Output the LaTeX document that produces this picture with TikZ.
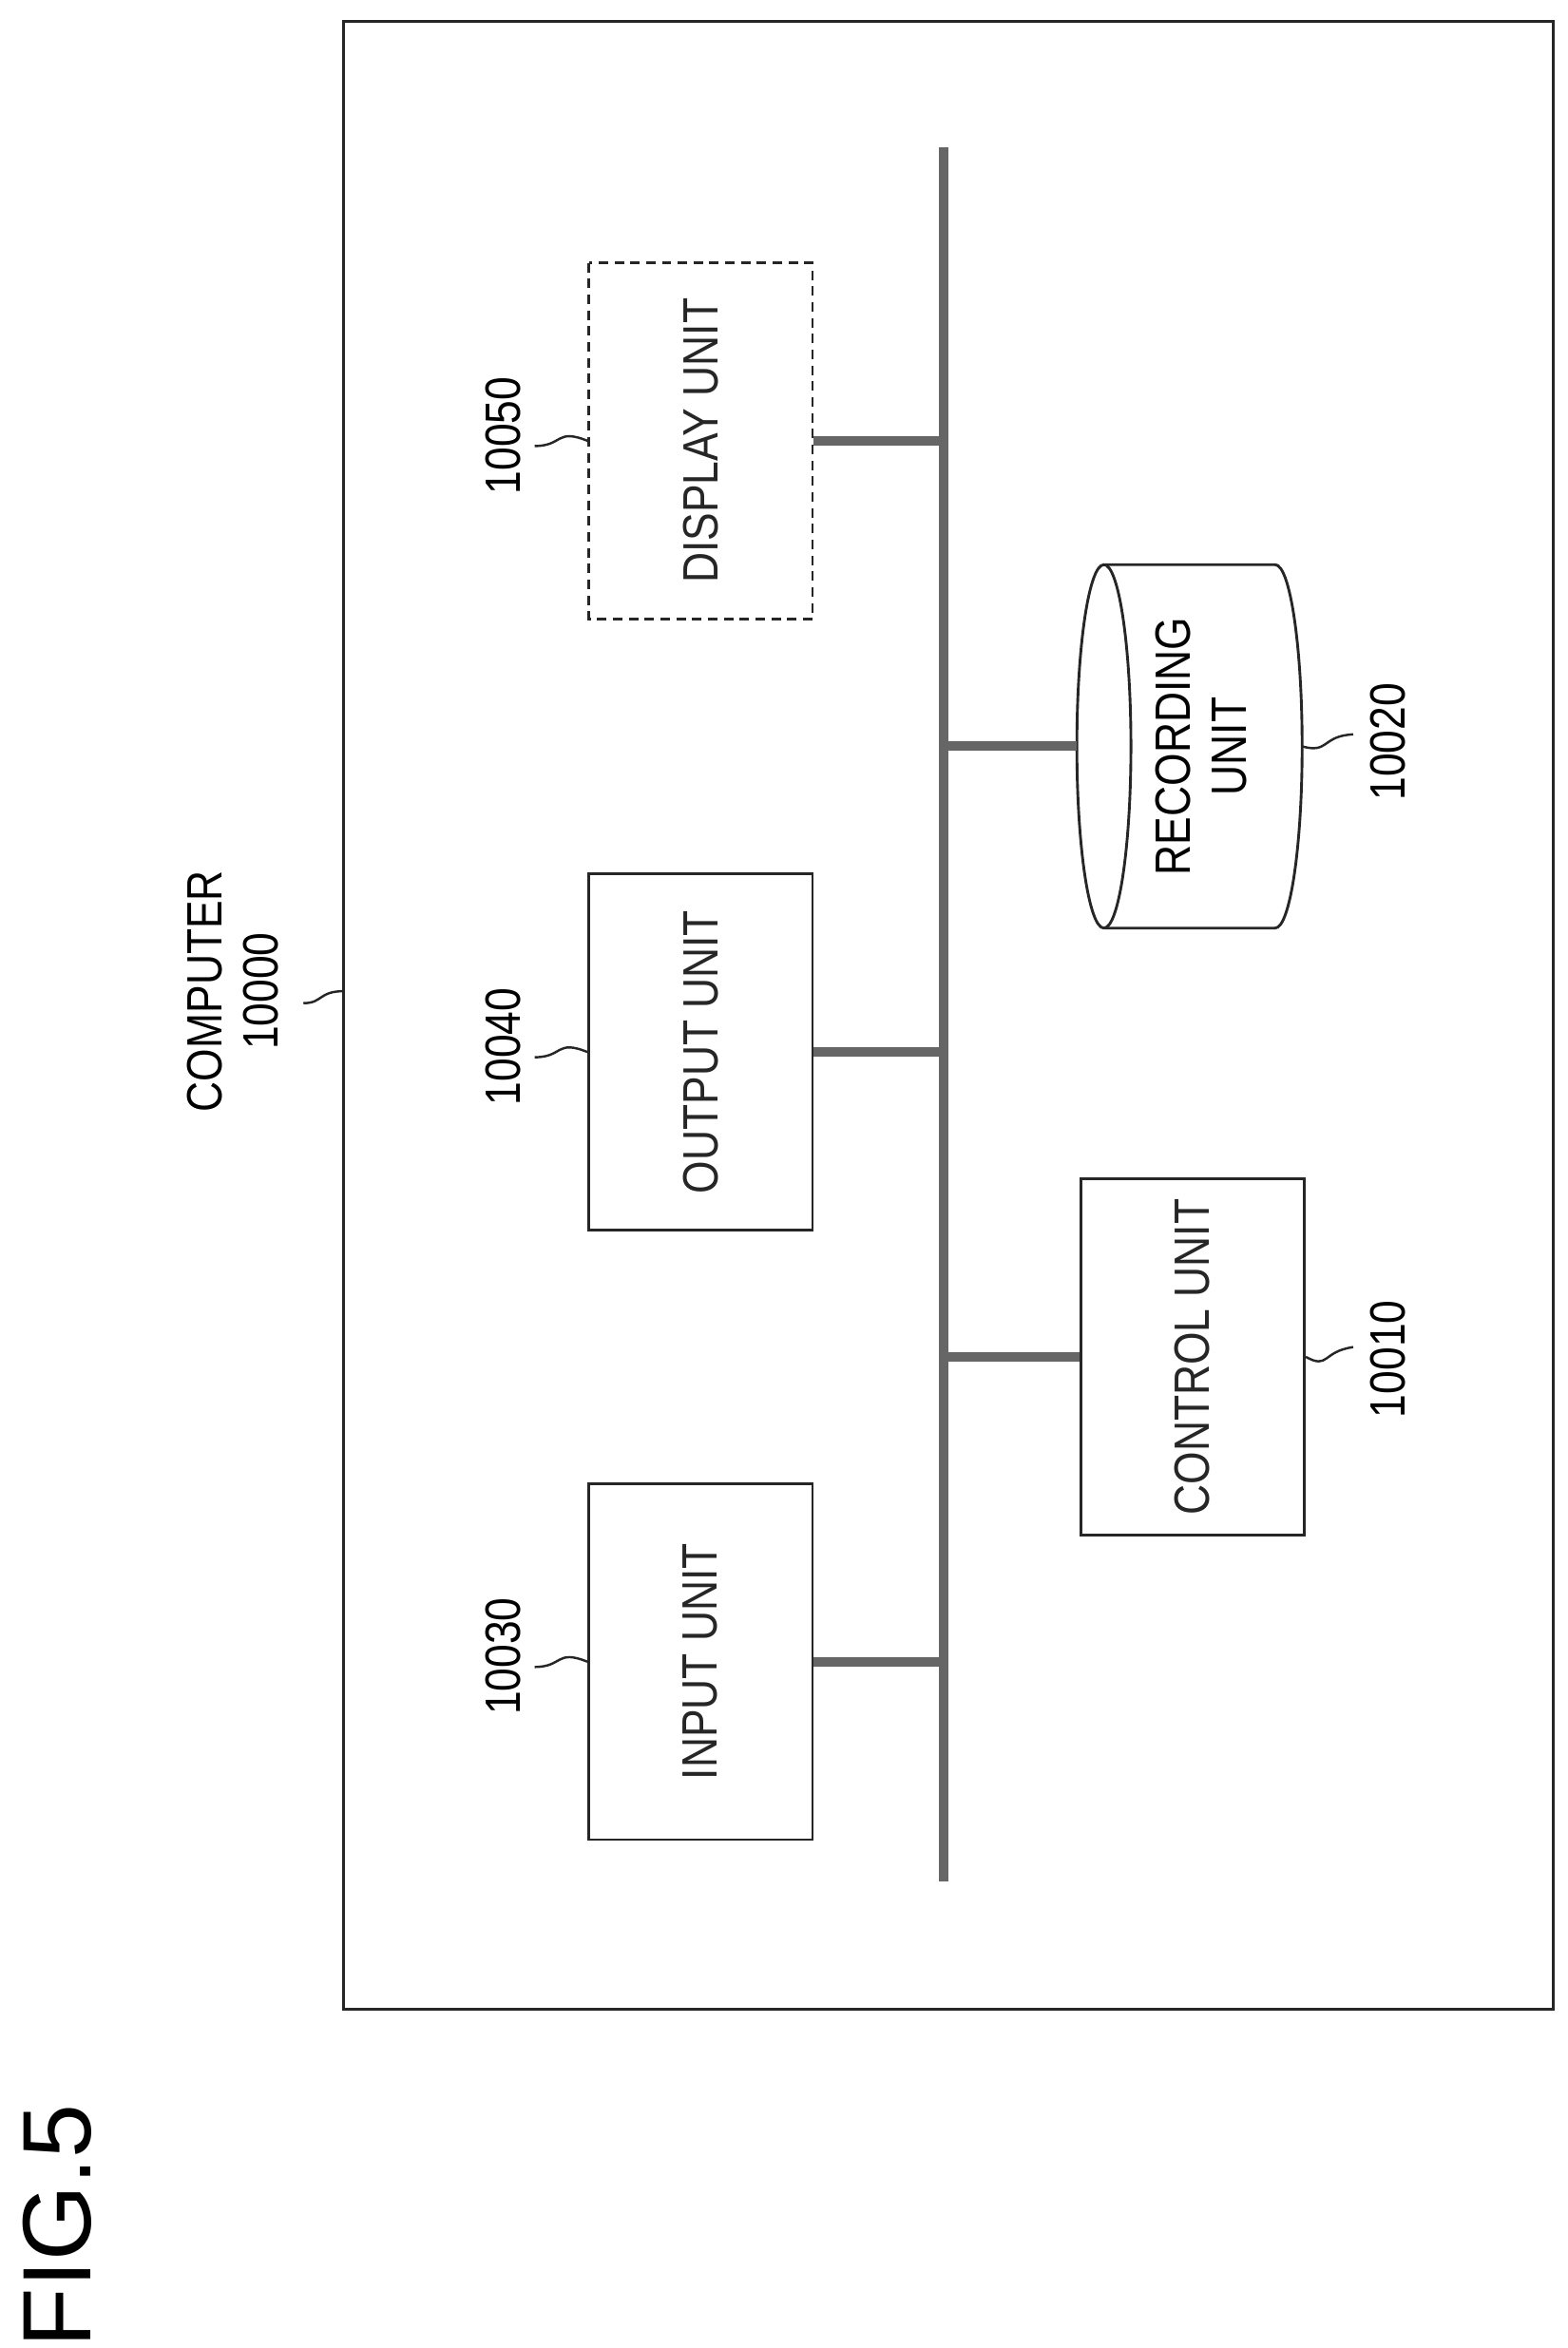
\documentclass[tikz,border=0pt]{standalone}
\usepackage{fontspec}
\setmainfont[FakeStretch=0.85]{Liberation Sans}
\newfontfamily\figfont{Liberation Sans}
\begin{document}
\begin{tikzpicture}[x=0.05cm,y=-0.05cm,
  line/.style={line width=2.6pt,black!85},
  box/.style={draw,line width=2.6pt,black!85,rotate=90,minimum width=11.85cm,minimum height=7.45cm,font=\fontsize{47}{53}\selectfont,inner sep=0pt},
  lbl/.style={rotate=90,font=\fontsize{47}{53}\selectfont,inner sep=0pt,align=center},
  bus/.style={line width=9pt,black!60},
  lead/.style={line width=2.2pt,black!85}]
\useasboundingbox (0,0) rectangle (1044,1563.5);
\draw[line] (229,14) rectangle (1034,1338);
% bus
\coordinate (b0) at (628,98); \coordinate (b1) at (628,1253);
\draw[bus] (b0) -- (b1);
% left boxes
\node[box] (in) at (466.5,1106.5) {INPUT UNIT};
\node[box] (out) at (466.5,700.5) {OUTPUT UNIT};
\node[box,dash pattern=on 9pt off 6pt] (disp) at (466.5,293.5) {DISPLAY UNIT};
\node[box] (ctl) at (794,903.5) {CONTROL UNIT};
% cylinder
\draw[line] (736,376) -- (849,376) arc[start angle=-90,end angle=90,x radius=18,y radius=121] -- (736,618);
\draw[line] (735,497) ellipse[x radius=18,y radius=121];
\node[lbl] (rec) at (800,497) {RECORDING\\UNIT};
\coordinate (recL) at (717,497);
\coordinate (recR) at (867,497);
% connectors
\coordinate (bi) at (628,1106.5); \coordinate (bo) at (628,700.5);
\coordinate (bd) at (628,293.5); \coordinate (bc) at (628,903.5);
\coordinate (br) at (628,497);
\draw[bus] (in.south) -- (bi);
\draw[bus] (out.south) -- (bo);
\draw[bus] (disp.south) -- (bd);
\draw[bus] (bc) -- (ctl.north);
\draw[bus] (br) -- (recL);
% labels
\node[lbl] (l30) at (335,1103) {10030};
\node[lbl] (l40) at (335,697) {10040};
\node[lbl] (l50) at (335,290) {10050};
\node[lbl] (l10) at (924,905) {10010};
\node[lbl] (l20) at (924,494) {10020};
\node[lbl] (l00) at (155,660) {COMPUTER\\10000};
\node[rotate=90,font=\figfont\fontsize{92}{100}\selectfont,inner sep=0pt] (fig) at (38,1482) {FIG.5};
% leaders
\draw[lead] (356,1110) .. controls (375,1110) and (370,1098) .. (in.north);
\draw[lead] (356,704) .. controls (375,704) and (370,692) .. (out.north);
\draw[lead] (356,297) .. controls (375,297) and (370,285) .. (disp.north);
\draw[lead] (ctl.south) .. controls (885,912) and (880,900) .. (901,897);
\draw[lead] (recR) .. controls (885,502) and (880,490) .. (901,489);
\draw[lead] (202,668) .. controls (215,668) and (212,660) .. (229,660);
\end{tikzpicture}
\end{document}
